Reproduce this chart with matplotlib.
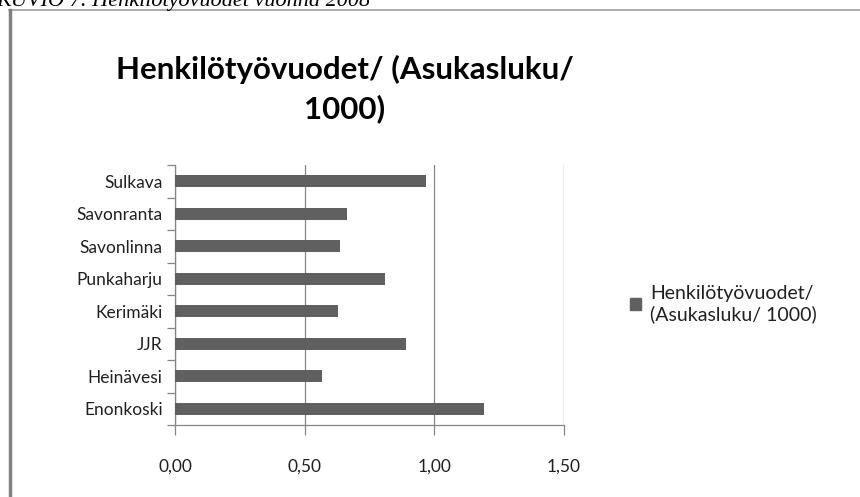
import numpy as np
import matplotlib.pyplot as plt
from matplotlib.lines import Line2D

plt.rcParams['font.family'] = ['Lato', 'DejaVu Sans']

# data
kunnat = ['Enonkoski', 'Heinävesi', 'JJR', 'Kerimäki', 'Punkaharju',
          'Savonlinna', 'Savonranta', 'Sulkava']
arvot = [1.19, 0.565, 0.89, 0.63, 0.808, 0.638, 0.664, 0.968]
xticks = [0.0, 0.5, 1.0, 1.5]
xlabels = ['0,00', '0,50', '1,00', '1,50']
sarja = 'Henkilötyövuodet/\n(Asukasluku/ 1000)'
otsikko = 'Henkilötyövuodet/ (Asukasluku/\n1000)'

bar_col = '#606060'
grid_col = '#868686'
txt_col = '#202020'

fig = plt.figure(figsize=(8.6, 4.97), dpi=100)

# page frame and caption partly cut at top
fig.add_artist(Line2D([0.0105, 1.0], [1 - 9.5/497, 1 - 9.5/497],
                      color='#a0a0a0', lw=1.2, transform=fig.transFigure))
fig.add_artist(Line2D([10/860, 10/860], [0, 1 - 9.5/497],
                      color='#808080', lw=2.5, transform=fig.transFigure))
fig.text(-0.004, 1 - 6/497, 'KUVIO 7. Henkilötyövuodet vuonna 2008',
         family='Liberation Serif', style='italic', fontsize=16,
         va='baseline', ha='left')

ax = fig.add_axes([175/860, 72/497, 389/860, 260/497])
ypos = np.arange(len(kunnat))
ax.barh(ypos, arvot, height=0.37, color=bar_col, zorder=3)

ax.set_xlim(0, 1.5)
ax.set_ylim(-0.5, len(kunnat) - 0.5)
ax.set_xticks(xticks)
ax.set_xticklabels(xlabels, fontsize=12.5, color=txt_col)
ax.set_yticks(ypos)
ax.set_yticklabels(kunnat, fontsize=12.5, color=txt_col)
ax.set_yticks(np.arange(-0.5, len(kunnat), 1.0), minor=True)

ax.grid(axis='x', color=grid_col, lw=0.9, zorder=0)
for s in ['top', 'right']:
    ax.spines[s].set_visible(False)
for s in ['left', 'bottom']:
    ax.spines[s].set_color(grid_col)
    ax.spines[s].set_linewidth(0.9)

ax.tick_params(axis='y', which='major', length=0, pad=9)
ax.tick_params(axis='y', which='minor', length=6, color=grid_col, width=0.9)
ax.tick_params(axis='x', length=7, color=grid_col, width=0.9, pad=17)

fig.text(345/860, 1 - 89/497, otsikko, fontsize=22.5, fontweight='bold',
         ha='center', va='center', linespacing=1.45)

ax.legend([plt.Rectangle((0, 0), 1, 1, color=bar_col)], [sarja],
          loc='center left', bbox_to_anchor=(630/860, 1 - 304/497),
          bbox_transform=fig.transFigure, frameon=False, fontsize=14,
          labelcolor=txt_col, handlelength=0.55, handleheight=0.55,
          handletextpad=0.5, borderaxespad=0, borderpad=0)

plt.savefig('out.png', dpi=100)
